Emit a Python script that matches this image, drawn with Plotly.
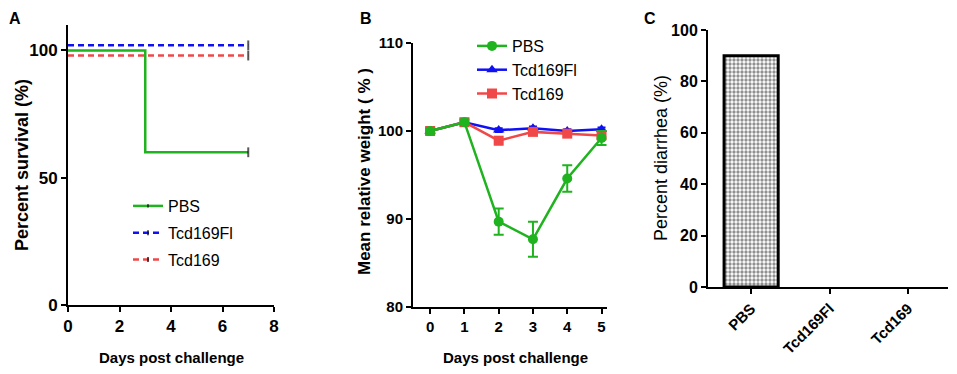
import plotly.graph_objects as go

# Page body has an 8px margin; size the figure so it fits the 957x374 window exactly.
OFF = 8
W, H = 957 - 2 * OFF, 374 - 2 * OFF
def px(x): return (x - OFF) / W
def py(y): return 1 - (y - OFF) / H

# ---------------- data ----------------
# Panel A: survival (step curves)
surv_days_pbs = [0, 3, 7]
surv_pbs = [100, 60, 60]
surv_days_fl = [0, 7]
surv_fl = [102, 102]
surv_days_169 = [0, 7]
surv_169 = [98, 98]

# Panel B: mean relative weight
weight_days = [0, 1, 2, 3, 4, 5]
weight_pbs = [100, 101, 89.7, 87.7, 94.6, 99.2]
weight_pbs_err = [0.3, 0.3, 1.5, 2.0, 1.5, 0.8]
weight_fl = [100, 101, 100.1, 100.3, 100.0, 100.2]
weight_fl_err = [0.2, 0.2, 0.2, 0.2, 0.2, 0.2]
weight_169 = [100, 101, 98.9, 99.9, 99.7, 99.5]
weight_169_err = [0.3, 0.3, 0.4, 0.3, 0.3, 0.3]

# Panel C: percent diarrhea
groups = ["PBS", "Tcd169Fl", "Tcd169"]
diarrhea = [90, 0, 0]

GREEN = "#1fb31f"
BLUE = "#1010f5"
RED = "#f04848"
FONT = "Liberation Sans"

fig = go.Figure()

# ---- Panel A ----
def censor_sizes(n):
    return [0] * (n - 1) + [7]

fig.add_trace(go.Scatter(
    x=surv_days_pbs, y=surv_pbs, mode="lines+markers", line=dict(color=GREEN, width=2.5, shape="hv"),
    marker=dict(symbol="line-ns", size=censor_sizes(len(surv_pbs)), color="#111", line=dict(color="#111", width=2)),
    name="PBS", xaxis="x", yaxis="y", legend="legend", legendgroup="a1"))
fig.add_trace(go.Scatter(
    x=surv_days_fl, y=surv_fl, mode="lines+markers", line=dict(color=BLUE, width=2.5, dash="6px,4px", shape="hv"),
    marker=dict(symbol="line-ns", size=censor_sizes(len(surv_fl)), color="#111", line=dict(color="#111", width=2)),
    name="Tcd169Fl", xaxis="x", yaxis="y", legend="legend", legendgroup="a2"))
fig.add_trace(go.Scatter(
    x=surv_days_169, y=surv_169, mode="lines+markers", line=dict(color=RED, width=2.5, dash="6px,4px", shape="hv"),
    marker=dict(symbol="line-ns", size=censor_sizes(len(surv_169)), color="#111", line=dict(color="#111", width=2)),
    name="Tcd169", xaxis="x", yaxis="y", legend="legend", legendgroup="a3"))

# ---- Panel B ----
fig.add_trace(go.Scatter(
    x=weight_days, y=weight_fl, mode="lines+markers", line=dict(color=BLUE, width=2.5),
    marker=dict(symbol="triangle-up", size=10, color=BLUE),
    error_y=dict(type="data", array=weight_fl_err, color=BLUE, thickness=2, width=4),
    name="Tcd169Fl", xaxis="x2", yaxis="y2", legend="legend2", legendgroup="b2", legendrank=2))
fig.add_trace(go.Scatter(
    x=weight_days, y=weight_169, mode="lines+markers", line=dict(color=RED, width=2.5),
    marker=dict(symbol="square", size=10, color=RED),
    error_y=dict(type="data", array=weight_169_err, color=RED, thickness=2, width=4),
    name="Tcd169", xaxis="x2", yaxis="y2", legend="legend2", legendgroup="b3", legendrank=3))
fig.add_trace(go.Scatter(
    x=weight_days, y=weight_pbs, mode="lines+markers", line=dict(color=GREEN, width=2.5),
    marker=dict(symbol="circle", size=10, color=GREEN),
    error_y=dict(type="data", array=weight_pbs_err, color=GREEN, thickness=2, width=5),
    name="PBS", xaxis="x2", yaxis="y2", legend="legend2", legendgroup="b1", legendrank=1))

# ---- Panel C ----
fig.add_trace(go.Bar(
    x=groups, y=diarrhea, width=0.69, xaxis="x3", yaxis="y3", showlegend=False,
    marker=dict(color="white", line=dict(color="black", width=[3 if v > 0 else 0 for v in diarrhea]),
                pattern=dict(shape=".", fgcolor="#222", bgcolor="white", size=4, solidity=0.55))))

tickfont_bold = lambda s: dict(family=FONT, size=s, color="black", weight="bold")
axis_common = dict(showline=True, linewidth=2, linecolor="black", ticks="outside", ticklen=5,
                   tickwidth=2, tickcolor="black", showgrid=False, zeroline=False, mirror=False,
                   automargin=False)

fig.update_layout(
    width=W, height=H, margin=dict(l=0, r=0, t=0, b=0, autoexpand=False),
    paper_bgcolor="white", plot_bgcolor="white",
    font=dict(family=FONT, color="black"),
    xaxis=dict(domain=[px(68), px(274)], range=[0, 8], tickvals=[0, 2, 4, 6, 8],
               tickfont=tickfont_bold(17), anchor="y", **axis_common),
    yaxis=dict(domain=[py(305), py(25)], range=[0, 110], tickvals=[0, 50, 100],
               tickfont=tickfont_bold(17), anchor="x", **axis_common),
    xaxis2=dict(domain=[px(413), px(607)], range=[-0.5, 5.16], tickvals=weight_days,
                tickfont=tickfont_bold(15), anchor="y2", **axis_common),
    yaxis2=dict(domain=[py(307), py(43)], range=[80, 110], tickvals=[80, 90, 100, 110],
                tickfont=tickfont_bold(15), anchor="x2", **axis_common),
    xaxis3=dict(domain=[px(708), px(948)], range=[-0.55, 2.51], tickangle=-45,
                tickfont=tickfont_bold(15), anchor="y3", **axis_common),
    yaxis3=dict(domain=[py(287), py(30)], range=[0, 100], tickvals=[0, 20, 40, 60, 80, 100],
                tickfont=tickfont_bold(16), anchor="x3", **axis_common),
    legend=dict(x=px(128), y=py(189), xanchor="left", yanchor="top", bgcolor="rgba(0,0,0,0)",
                font=dict(family=FONT, size=16, color="black"), tracegroupgap=3, itemwidth=30),
    legend2=dict(x=px(472), y=py(29), xanchor="left", yanchor="top", bgcolor="rgba(0,0,0,0)",
                 font=dict(family=FONT, size=16, color="black"), tracegroupgap=0, itemwidth=30),
    showlegend=True,
)

ann = []
def text(x, y, s, size, bold=True, angle=0, yanchor="middle"):
    ann.append(dict(x=px(x), y=py(y), xref="paper", yref="paper", text=s, showarrow=False,
                    textangle=angle, xanchor="center", yanchor=yanchor,
                    font=dict(family=FONT, size=size, color="black", weight="bold" if bold else "normal")))

text(15, 8, "A", 16, yanchor="top")
text(366, 8, "B", 16, yanchor="top")
text(650, 8, "C", 16, yanchor="top")
text(22, 165, "Percent survival (%)", 18, angle=-90)
text(171, 357, "Days post challenge", 15)
text(364, 172, "Mean relative weight ( % )", 17, angle=-90)
text(515, 357, "Days post challenge", 15)
text(661, 158, "Percent diarrhea (%)", 18, bold=False, angle=-90)
fig.update_layout(annotations=ann)

fig.write_html("out.html")
